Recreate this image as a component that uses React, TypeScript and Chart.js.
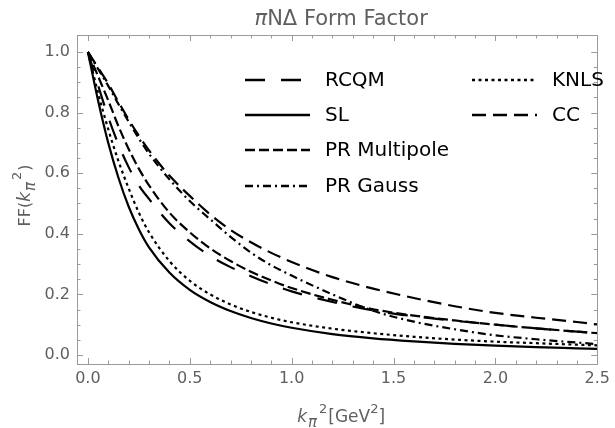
import React, { useEffect, useRef } from "react";
import { Chart, registerables } from "chart.js";
Chart.register(...registerables);

// ---- data ----
const kSq = [0, 0.05, 0.1, 0.15, 0.2, 0.25, 0.3, 0.4, 0.5, 0.6, 0.7, 0.8, 0.9, 1.0, 1.2, 1.4, 1.6, 1.8, 2.0, 2.2, 2.4, 2.5];
const ffRCQM = [1.0, 0.89, 0.785, 0.695, 0.62, 0.56, 0.515, 0.435, 0.375, 0.327, 0.29, 0.26, 0.233, 0.21, 0.175, 0.147, 0.128, 0.113, 0.1, 0.088, 0.077, 0.072];
const ffSL = [1.0, 0.84, 0.7, 0.585, 0.49, 0.415, 0.355, 0.272, 0.215, 0.175, 0.145, 0.122, 0.104, 0.09, 0.069, 0.055, 0.045, 0.037, 0.031, 0.026, 0.022, 0.02];
const ffPRMultipole = [1.0, 0.92, 0.84, 0.755, 0.68, 0.615, 0.56, 0.47, 0.405, 0.352, 0.31, 0.275, 0.246, 0.221, 0.182, 0.151, 0.13, 0.114, 0.1, 0.088, 0.077, 0.072];
const ffPRGauss = [1.0, 0.944, 0.888, 0.828, 0.77, 0.715, 0.664, 0.58, 0.508, 0.448, 0.39, 0.338, 0.296, 0.262, 0.2, 0.146, 0.11, 0.085, 0.065, 0.052, 0.041, 0.036];
const ffKNLS = [1.0, 0.865, 0.745, 0.64, 0.55, 0.47, 0.405, 0.31, 0.245, 0.2, 0.167, 0.142, 0.123, 0.108, 0.087, 0.072, 0.06, 0.051, 0.044, 0.039, 0.034, 0.032];
const ffCC = [1.0, 0.948, 0.895, 0.835, 0.777, 0.724, 0.675, 0.592, 0.525, 0.464, 0.413, 0.372, 0.337, 0.307, 0.257, 0.219, 0.188, 0.161, 0.139, 0.123, 0.109, 0.101];

const seriesNames = ["RCQM", "SL", "PR Multipole", "PR Gauss", "KNLS", "CC"];
const xTicks = [0, 0.5, 1.0, 1.5, 2.0, 2.5];
const yTicks = [0, 0.2, 0.4, 0.6, 0.8, 1.0];

const FONT = '"DejaVu Sans", Verdana, sans-serif';
const GRAY_TEXT = "#5f5f5f";
const FRAME = "#9a9a9a";

type Seg = { t: string; it?: boolean; sz: number; dy?: number; gap?: number };

function richWidth(ctx: CanvasRenderingContext2D, segs: Seg[]) {
  let w = 0;
  for (const s of segs) {
    ctx.font = `${s.it ? "italic " : ""}${s.sz}px ${FONT}`;
    w += ctx.measureText(s.t).width + (s.gap || 0);
  }
  return w;
}
function drawRich(ctx: CanvasRenderingContext2D, segs: Seg[], cx: number, baseline: number) {
  const w = richWidth(ctx, segs);
  let x = cx - w / 2;
  ctx.textBaseline = "alphabetic";
  ctx.textAlign = "left";
  for (const s of segs) {
    ctx.font = `${s.it ? "italic " : ""}${s.sz}px ${FONT}`;
    ctx.fillText(s.t, x, baseline + (s.dy || 0));
    x += ctx.measureText(s.t).width + (s.gap || 0);
  }
}

const framePlugin = {
  id: "framePlugin",
  afterDatasetsDraw(chart: any) {
    const { ctx, chartArea: a, scales } = chart;
    const xs = scales.x, ys = scales.y;
    ctx.save();
    ctx.strokeStyle = FRAME;
    ctx.lineWidth = 1;
    ctx.strokeRect(Math.round(a.left) + 0.5, Math.round(a.top) + 0.5, Math.round(a.right - a.left), Math.round(a.bottom - a.top));
    const major = 6, minor = 3.5;
    for (let i = 0; i <= 25; i++) {
      const v = i / 10;
      const px = Math.round(xs.getPixelForValue(v)) + 0.5;
      const len = i % 5 === 0 ? major : minor;
      ctx.beginPath();
      ctx.moveTo(px, a.bottom); ctx.lineTo(px, a.bottom - len);
      ctx.moveTo(px, a.top); ctx.lineTo(px, a.top + len);
      ctx.stroke();
    }
    for (let i = 0; i <= 20; i++) {
      const v = i / 20;
      const py = Math.round(ys.getPixelForValue(v)) + 0.5;
      const len = i % 4 === 0 ? major : minor;
      ctx.beginPath();
      ctx.moveTo(a.left, py); ctx.lineTo(a.left + len, py);
      ctx.moveTo(a.right, py); ctx.lineTo(a.right - len, py);
      ctx.stroke();
    }
    ctx.restore();
  },
};

const textPlugin = {
  id: "textPlugin",
  afterDraw(chart: any) {
    const { ctx, chartArea: a } = chart;
    ctx.save();
    ctx.fillStyle = GRAY_TEXT;
    const cx = (a.left + a.right) / 2;
    // title
    drawRich(ctx, [{ t: "π", it: true, sz: 21 }, { t: "NΔ Form Factor", sz: 21 }], cx + 4, 25);
    // x title
    drawRich(ctx, [
      { t: "k", it: true, sz: 17, gap: 1 },
      { t: "π", it: true, sz: 15, dy: 5, gap: 2 },
      { t: "2", sz: 13, dy: -9, gap: 1 },
      { t: "[GeV", sz: 17 },
      { t: "2", sz: 13, dy: -9 },
      { t: "]", sz: 17 },
    ], cx + 4, 422);
    // y title (rotated)
    ctx.translate(30, (a.top + a.bottom) / 2);
    ctx.rotate(-Math.PI / 2);
    drawRich(ctx, [
      { t: "FF(", sz: 16 },
      { t: "k", it: true, sz: 17, gap: 1 },
      { t: "π", it: true, sz: 15, dy: 5, gap: 2 },
      { t: "2", sz: 13, dy: -9, gap: 1 },
      { t: ")", sz: 16 },
    ], 4, 0);
    ctx.restore();
  },
};

const legendPlugin = {
  id: "legendPlugin",
  afterDraw(chart: any) {
    const { ctx } = chart;
    const cols = [
      { x0: 245, x1: 310, tx: 325, items: [0, 1, 2, 3] },
      { x0: 472, x1: 537, tx: 552, items: [4, 5] },
    ];
    const rowY = [80, 115, 150, 186];
    ctx.save();
    for (const c of cols) {
      c.items.forEach((di, r) => {
        const ds = chart.data.datasets[di];
        const y = rowY[r];
        ctx.strokeStyle = "#000";
        ctx.lineWidth = 2.4;
        ctx.setLineDash(ds.borderDash || []);
        ctx.beginPath();
        ctx.moveTo(c.x0, y); ctx.lineTo(c.x1, y);
        ctx.stroke();
        ctx.setLineDash([]);
        ctx.fillStyle = "#000";
        ctx.font = `20px ${FONT}`;
        ctx.textBaseline = "middle";
        ctx.textAlign = "left";
        ctx.fillText(ds.label, c.tx, y + 1);
      });
    }
    ctx.restore();
  },
};

const dashes: number[][] = [[20, 16], [], [10, 4], [8, 4, 2, 4], [3, 3.5], [14, 7]];
const seriesValues = [ffRCQM, ffSL, ffPRMultipole, ffPRGauss, ffKNLS, ffCC];

export default function App() {
  const ref = useRef<HTMLCanvasElement>(null);
  useEffect(() => {
    const canvas = ref.current!;
    const chart = new Chart(canvas, {
      type: "line",
      data: {
        datasets: seriesNames.map((name, i) => ({
          label: name,
          data: kSq.map((k, j) => ({ x: k, y: seriesValues[i][j] })),
          borderColor: "#000",
          borderWidth: 2.2,
          borderDash: dashes[i],
          pointRadius: 0,
          cubicInterpolationMode: "monotone" as const,
          fill: false,
        })),
      },
      options: {
        responsive: false,
        animation: false,
        layout: { padding: { left: 0, top: 35, right: 12, bottom: 0 }, autoPadding: false } as any,
        plugins: { legend: { display: false }, title: { display: false }, tooltip: { enabled: false } },
        scales: {
          x: {
            type: "linear",
            min: -0.0534,
            max: 2.5,
            grid: { display: false, drawTicks: false },
            border: { display: false },
            afterBuildTicks: (s: any) => { s.ticks = xTicks.map((v) => ({ value: v })); },
            afterFit: (s: any) => { s.height = 64; },
            ticks: {
              color: GRAY_TEXT,
              font: { family: FONT, size: 16 },
              padding: 5,
              maxRotation: 0,
              autoSkip: false,
              callback: (v: any) => Number(v).toFixed(1),
            },
          },
          y: {
            type: "linear",
            min: -0.0297,
            max: 1.056,
            grid: { display: false, drawTicks: false },
            border: { display: false },
            afterBuildTicks: (s: any) => { s.ticks = yTicks.map((v) => ({ value: v })); },
            afterFit: (s: any) => { s.width = 77; },
            ticks: {
              color: GRAY_TEXT,
              font: { family: FONT, size: 16 },
              padding: 7,
              autoSkip: false,
              callback: (v: any) => Number(v).toFixed(1),
            },
          },
        },
      },
      plugins: [framePlugin, textPlugin, legendPlugin],
    });
    return () => chart.destroy();
  }, []);
  return (
    <div style={{ position: "absolute", left: 0, top: 0, width: 615, height: 428, background: "#fff" }}>
      <canvas ref={ref} width={615} height={428} style={{ display: "block" }} />
    </div>
  );
}
